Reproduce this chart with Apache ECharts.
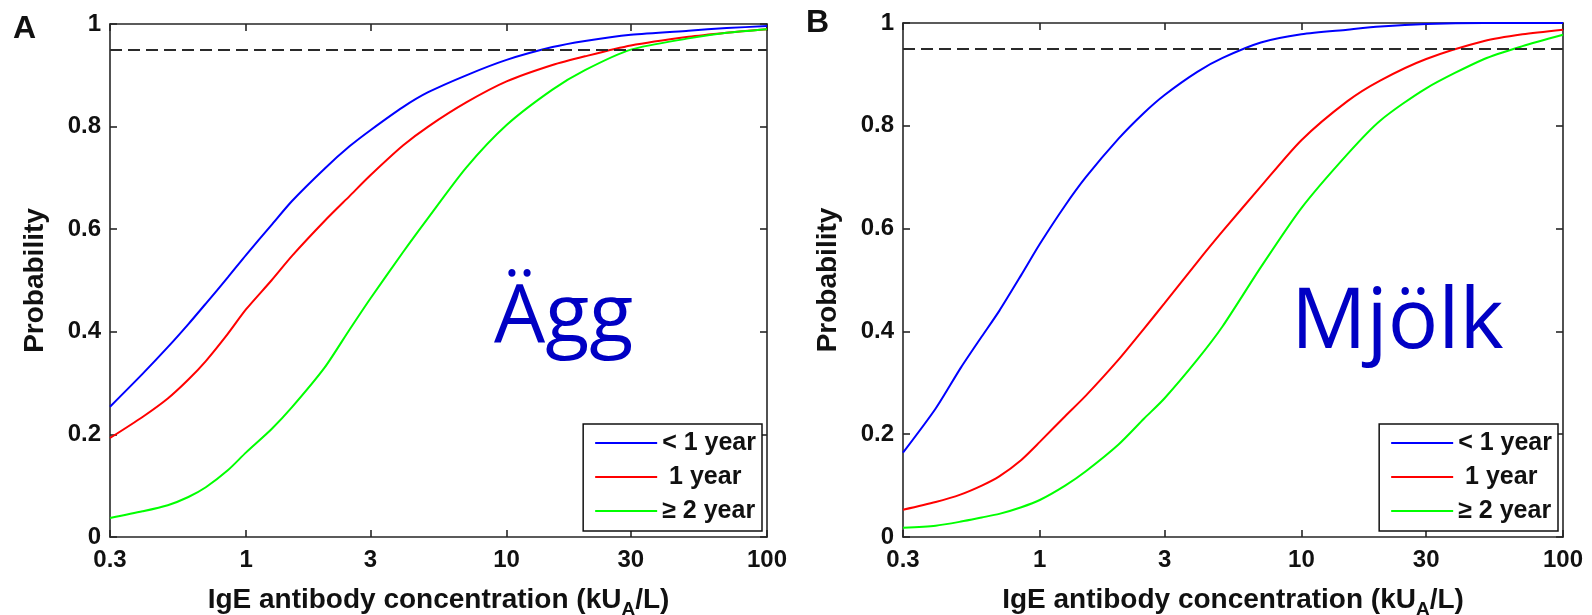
<!DOCTYPE html>
<html>
<head>
<meta charset="utf-8">
<script src="https://cdn.jsdelivr.net/npm/echarts@6/dist/echarts.min.js"></script>
<style>
html,body{margin:0;padding:0;background:#fff;}
#chart{width:1592px;height:615px;}
</style>
</head>
<body>
<div id="chart"></div>
<script>
// ---- data ----
const conc = [0.3, 0.4, 0.5, 0.6, 0.7, 0.85, 1, 1.25, 1.5, 2, 2.5, 3, 4, 5, 7, 10, 15, 20, 30, 50, 70, 100];

const eggUnder1 = [0.254, 0.318, 0.370, 0.415, 0.455, 0.506, 0.550, 0.608, 0.655, 0.718, 0.762, 0.793, 0.838, 0.867, 0.900, 0.930, 0.955, 0.967, 0.979, 0.987, 0.992, 0.996];
const eggAge1   = [0.193, 0.234, 0.270, 0.307, 0.343, 0.396, 0.444, 0.500, 0.548, 0.616, 0.665, 0.705, 0.763, 0.800, 0.847, 0.888, 0.920, 0.937, 0.958, 0.975, 0.983, 0.990];
const eggAge2   = [0.037, 0.050, 0.062, 0.078, 0.097, 0.130, 0.165, 0.210, 0.253, 0.330, 0.405, 0.465, 0.555, 0.622, 0.720, 0.803, 0.872, 0.910, 0.950, 0.972, 0.983, 0.990];

const milkUnder1 = [0.164, 0.250, 0.330, 0.390, 0.440, 0.510, 0.570, 0.645, 0.700, 0.775, 0.825, 0.860, 0.905, 0.932, 0.962, 0.978, 0.987, 0.993, 0.998, 1.000, 1.000, 1.000];
const milkAge1   = [0.053, 0.068, 0.083, 0.100, 0.118, 0.150, 0.185, 0.235, 0.275, 0.345, 0.405, 0.455, 0.535, 0.595, 0.682, 0.772, 0.848, 0.888, 0.930, 0.965, 0.978, 0.987];
const milkAge2   = [0.018, 0.022, 0.030, 0.038, 0.045, 0.058, 0.072, 0.100, 0.128, 0.180, 0.230, 0.270, 0.345, 0.410, 0.525, 0.640, 0.745, 0.810, 0.873, 0.930, 0.955, 0.977];

const xTickValues = [0.3, 1, 3, 10, 30, 100];
const groupNames = ['< 1 year', ' 1 year', '\u2265 2 year'];
const groupColors = ['#0000ff', '#ff0000', '#00ff00'];
const panelLetters = ['A', 'B'];
const foodNames = ['\u00c4gg', 'Mj\u00f6lk'];
const threshold = 0.95;

const panels = [
  { values: [eggUnder1, eggAge1, eggAge2] },
  { values: [milkUnder1, milkAge1, milkAge2] }
];

// ---- layout / style ----
const FONT = "'Liberation Sans', Arial, sans-serif";
const grids = [
  { left: 110, top: 24, width: 657, height: 513 },
  { left: 903, top: 23, width: 660, height: 514 }
];
const axisLineStyle = { color: '#262626', width: 1.6 };

const xAxes = [], yAxes = [], series = [], legends = [];

grids.forEach((g, i) => {
  // bottom x
  xAxes.push({
    type: 'log', gridIndex: i, min: 0.3, max: 100, position: 'bottom',
    axisLine: { show: true, onZero: false, lineStyle: axisLineStyle },
    axisTick: { show: true, inside: true, length: 7, customValues: xTickValues, lineStyle: axisLineStyle },
    axisLabel: { show: true, customValues: xTickValues, margin: 11, fontSize: 24, fontWeight: 'bold', color: '#111', fontFamily: FONT },
    minorTick: { show: false }, splitLine: { show: false },
    name: '{t|IgE antibody concentration (kU}{s|A}{t|/L)}',
    nameLocation: 'middle', nameGap: 49,
    nameTextStyle: {
      color: '#111', fontFamily: FONT, fontWeight: 'bold', fontSize: 28,
      rich: {
        t: { fontSize: 28, fontWeight: 'bold', fontFamily: FONT, color: '#111', verticalAlign: 'top', lineHeight: 29 },
        s: { fontSize: 19, fontWeight: 'bold', fontFamily: FONT, color: '#111', verticalAlign: 'top', lineHeight: 20, padding: [14, 0, 0, 0] }
      }
    }
  });
  // top x (mirror box)
  xAxes.push({
    type: 'log', gridIndex: i, min: 0.3, max: 100, position: 'top',
    axisLine: { show: true, onZero: false, lineStyle: axisLineStyle },
    axisTick: { show: true, inside: true, length: 7, customValues: xTickValues, lineStyle: axisLineStyle },
    axisLabel: { show: false, customValues: xTickValues },
    splitLine: { show: false }
  });
  // left y
  yAxes.push({
    type: 'value', gridIndex: i, min: 0, max: 1, interval: 0.2, position: 'left',
    axisLine: { show: true, onZero: false, lineStyle: axisLineStyle },
    axisTick: { show: true, inside: true, length: 7, lineStyle: axisLineStyle },
    axisLabel: { show: true, margin: 9, fontSize: 24, fontWeight: 'bold', color: '#111', fontFamily: FONT },
    splitLine: { show: false },
    name: 'Probability', nameLocation: 'middle', nameRotate: 90, nameGap: 61,
    nameTextStyle: { color: '#111', fontFamily: FONT, fontWeight: 'bold', fontSize: 28 }
  });
  // right y (mirror box)
  yAxes.push({
    type: 'value', gridIndex: i, min: 0, max: 1, interval: 0.2, position: 'right',
    axisLine: { show: true, onZero: false, lineStyle: axisLineStyle },
    axisTick: { show: true, inside: true, length: 7, lineStyle: axisLineStyle },
    axisLabel: { show: false },
    splitLine: { show: false }
  });

  panels[i].values.forEach((vals, k) => {
    const s = {
      type: 'line',
      name: groupNames[k],
      xAxisIndex: i * 2,
      yAxisIndex: i * 2,
      data: conc.map((c, j) => [c, vals[j]]),
      symbol: 'none',
      smooth: 0.25,
      color: groupColors[k],
      lineStyle: { color: groupColors[k], width: 2 },
      emphasis: { disabled: true },
      z: 3
    };
    if (k === 0) {
      s.markLine = {
        silent: true, symbol: 'none', animation: false,
        label: { show: false },
        lineStyle: { type: [12, 6], color: '#2a2a2a', width: 2 },
        data: [{ yAxis: threshold }]
      };
    }
    series.push(s);
  });

  legends.push({
    orient: 'vertical',
    right: 1592 - (g.left + g.width) + 5,
    top: 424,
    data: groupNames,
    icon: 'rect',
    itemWidth: 62, itemHeight: 2,
    itemGap: 8,
    padding: [6, 6, 7, 12],
    borderColor: '#111', borderWidth: 1.5,
    backgroundColor: '#fff',
    selectedMode: false,
    textStyle: { fontSize: 25, fontWeight: 'bold', color: '#111', fontFamily: FONT, lineHeight: 26 },
    z: 5
  });
});

const graphics = [
  { type: 'text', left: 13, top: 13, style: { text: panelLetters[0], font: "bold 32px " + FONT, fill: '#111' } },
  { type: 'text', left: 806, top: 7, style: { text: panelLetters[1], font: "bold 32px " + FONT, fill: '#111' } },
  { type: 'text', x: 494, y: 359, style: { text: foodNames[0], font: "81px 'Open Sans', sans-serif", fill: '#0000c4', verticalAlign: 'bottom' } },
  { type: 'text', x: 1291, y: 366, style: { text: foodNames[1], font: "84px 'Open Sans', sans-serif", fill: '#0000c4', verticalAlign: 'bottom' } }
];

const chart = echarts.init(document.getElementById('chart'), null, { renderer: 'canvas' });
chart.setOption({
  animation: false,
  backgroundColor: '#fff',
  grid: grids.map(g => Object.assign({ containLabel: false, outerBoundsMode: 'none' }, g)),
  xAxis: xAxes,
  yAxis: yAxes,
  legend: legends,
  series: series,
  graphic: graphics
});
</script>
</body>
</html>
